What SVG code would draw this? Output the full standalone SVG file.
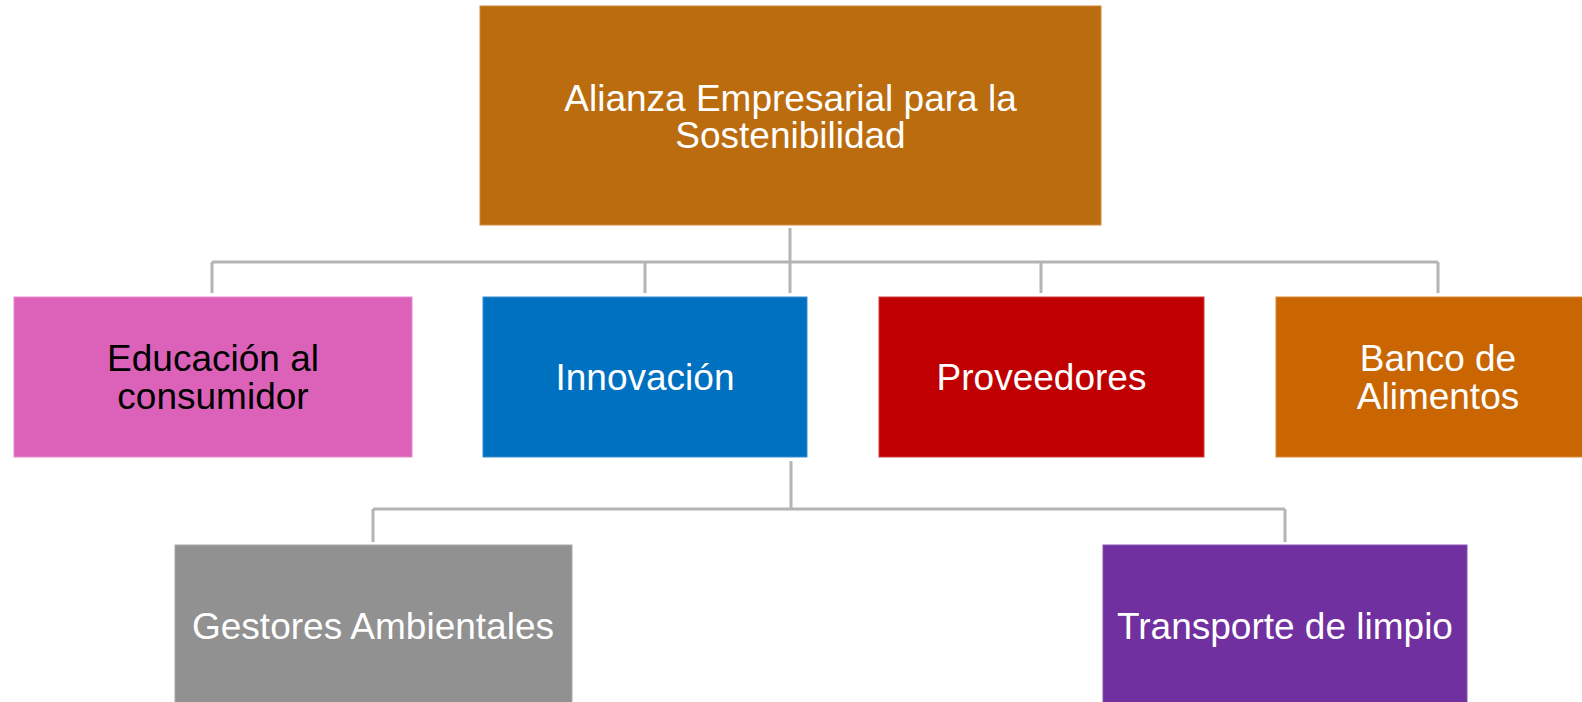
<svg xmlns="http://www.w3.org/2000/svg" width="1582" height="702" viewBox="0 0 1582 702">
<style>
.lbl{font-family:"Liberation Sans",Arial,sans-serif;font-size:37px;fill:#FFFFFF;text-anchor:middle}
.dark{fill:#000000}
.conn{stroke:#B4B4B4;stroke-width:3;fill:none}
</style>
<rect width="1582" height="702" fill="#FFFFFF"/>
<g id="connectors">
<path class="conn" d="M790,228 V262 M212,262 H1438 M212,262 V293 M645,262 V293 M790,262 V293 M1041,262 V293 M1438,262 V293"/>
<path class="conn" d="M791,461 V509 M373,509 H1285 M373,509 V542 M1285,509 V542"/>
</g>
<g id="node-alianza">
<rect x="480" y="6" width="621" height="219" fill="#BB6C0F" stroke="#D08A3A" stroke-width="1"/>
<text class="lbl" x="790.5" y="111">Alianza Empresarial para la</text>
<text class="lbl" x="790.5" y="148">Sostenibilidad</text>
</g>
<g id="node-educacion">
<rect x="14" y="297" width="398" height="160" fill="#DB62B8" stroke="#E58ACB" stroke-width="1"/>
<text class="lbl dark" x="213" y="371">Educación al</text>
<text class="lbl dark" x="213" y="409">consumidor</text>
</g>
<g id="node-innovacion">
<rect x="483" y="297" width="324" height="160" fill="#0070C0" stroke="#3A8DCB" stroke-width="1"/>
<text class="lbl" x="645" y="390">Innovación</text>
</g>
<g id="node-proveedores">
<rect x="879" y="297" width="325" height="160" fill="#C00000" stroke="#CE3A3A" stroke-width="1"/>
<text class="lbl" x="1041.5" y="390">Proveedores</text>
</g>
<g id="node-banco">
<rect x="1276" y="297" width="324" height="160" fill="#CA6602" stroke="#D8893A" stroke-width="1"/>
<text class="lbl" x="1438" y="371">Banco de</text>
<text class="lbl" x="1438" y="409">Alimentos</text>
</g>
<g id="node-gestores">
<rect x="175" y="545" width="397" height="170" fill="#919191" stroke="#A8A8A8" stroke-width="1"/>
<text class="lbl" x="373" y="639">Gestores Ambientales</text>
</g>
<g id="node-transporte">
<rect x="1103" y="545" width="364" height="170" fill="#7030A0" stroke="#8A55B2" stroke-width="1"/>
<text class="lbl" x="1285" y="639">Transporte de limpio</text>
</g>
</svg>
